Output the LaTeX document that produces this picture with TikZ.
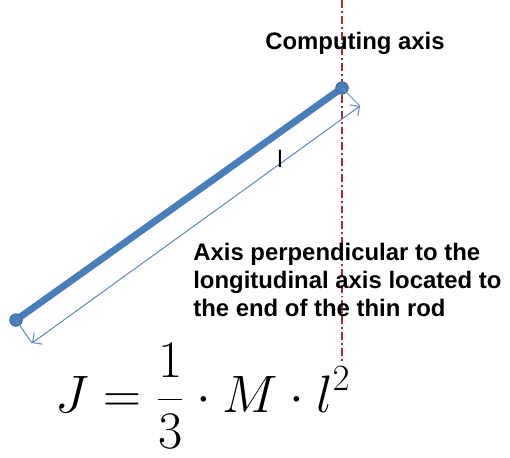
\RequirePackage{fix-cm}
\documentclass[tikz,border=0pt]{standalone}
\usepackage{fontspec}
\usepackage{amsmath}
\newfontfamily\arialfont{Liberation Sans}
\definecolor{RodBlue}{RGB}{74,126,187}
\definecolor{DimBlue}{RGB}{100,140,200}
\definecolor{AxisRed}{RGB}{165,45,50}
\usetikzlibrary{arrows.meta, positioning, calc}

\begin{document}
\begin{tikzpicture}[x=0.02cm, y=-0.02cm,
	rodend/.style={circle, fill=RodBlue, draw=RodBlue!80!black, line width=0.4pt, inner sep=0pt, minimum size=7pt},
	labeltext/.style={font=\arialfont\bfseries\fontsize{13.6}{15.9}\selectfont, inner sep=0pt}]
	\useasboundingbox (0,0) rectangle (510,457);

	% eje de calculo
	\coordinate (axtop) at (342,0);
	\coordinate (axbot) at (342,362);
	\draw[AxisRed, line width=1.1pt, dash pattern=on 4.5pt off 1.7pt on 1.1pt off 1.7pt] (axtop) -- (axbot);
	\node[labeltext] (comp) at (355,43) {Computing axis};

	% la varilla
	\node[rodend] (rodA) at (16,320) {};
	\node[rodend] (rodB) at (342,88) {};
	\draw[RodBlue, line width=3.9pt] (rodA.center) -- (rodB.center);
	\node[rodend] at (rodA) {};
	\node[rodend] at (rodB) {};

	% cota
	\coordinate (dimA) at (32,343);
	\coordinate (dimB) at (360,106);
	\draw[DimBlue, line width=0.6pt] (rodA.center) -- (dimA);
	\draw[DimBlue, line width=0.6pt] (rodB.center) -- (dimB);
	\draw[DimBlue, line width=0.6pt, {Straight Barb[length=4pt]}-{Straight Barb[length=4pt]}] (dimA) -- (dimB);
	\node[font=\arialfont\fontsize{13.6}{15.9}\selectfont, inner sep=0pt] (len) at (280,159) {l};

	\node[labeltext, align=left, anchor=north west] (desc) at (193,243)
		{Axis perpendicular to the\\ longitudinal axis located to\\ the end of the thin rod};

	% momento de inercia
	\node[inner sep=0pt, font=\fontsize{30}{36}\selectfont] (formula) at (203,396)
		{$\displaystyle J=\frac{1}{3}\cdot M\cdot l^{2}$};
\end{tikzpicture}
\end{document}
